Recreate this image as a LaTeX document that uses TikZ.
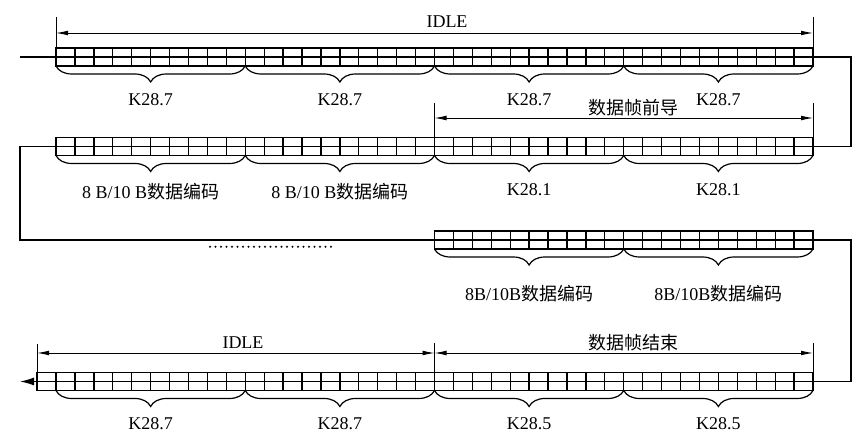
\documentclass[tikz,border=0pt]{standalone}
\usepackage{fontspec}
\setmainfont{Liberation Serif}
\newfontfamily\cjk{Noto Sans CJK SC}
\usetikzlibrary{arrows.meta,decorations.pathreplacing}

\tikzset{
  slot/.style={line width=0.65pt},
  wire/.style={line width=0.65pt},
  brc/.style={decorate,decoration={brace,mirror,amplitude=8pt},line width=0.6pt},
  dim/.style={{Latex[length=6pt,width=2.4pt]}-{Latex[length=6pt,width=2.4pt]},line width=0.45pt},
  tick/.style={line width=0.45pt},
  lbl/.style={font=\fontsize{9}{10}\selectfont,inner sep=0pt},
}

\begin{document}
\begin{tikzpicture}[x=0.5pt,y=0.5pt]
        \useasboundingbox (0,0) rectangle (858,444);
        % code word strips
        \foreach \xa/\yc/\cnt in {56/387/40,56/297.5/40,434.5/204/20,37.075/62.5/41}{
          \draw[slot] (\xa,\yc-9) rectangle ({\xa+\cnt*18.925},\yc+9);
          \draw[slot] (\xa,\yc) -- ({\xa+\cnt*18.925},\yc);
          \foreach \k in {1,...,\cnt}
            \draw[slot] ({\xa+\k*18.925},\yc-9) -- ++(0,18);
        }
        \coordinate (in) at (20,387);
        \coordinate (r1w) at (56,387);
        \coordinate (r1e) at (813,387);
        \coordinate (r2w) at (56,297.5);
        \coordinate (r2e) at (813,297.5);
        \coordinate (r3w) at (434.5,204);
        \coordinate (r3e) at (813,204);
        \coordinate (r4w) at (37.075,62.5);
        \coordinate (r4e) at (813,62.5);
        \coordinate (out) at (20,62.5);
        \draw[wire] (in) -- (r1w);
        \draw[wire] (r1e) -- ++(38,0) |- (r2e);
        \draw[wire] (r2w) -- ++(-36,0) |- (r3w);
        \draw[wire] (r3e) -- ++(38,0) |- (r4e);
        \draw[wire, -{Latex[length=7pt,width=4pt]}] (r4w) -- (out);
        % row 1
        \draw[tick] (56,427) -- (56,396);
        \draw[tick] (813,427) -- (813,396);
        \draw[dim] (56,411) -- (813,411);
        \node[lbl, anchor=south] (idle1) at (447,416) {IDLE};
        \foreach \i in {0,...,3}{
          \draw[brc] ({56+\i*189.25},378) -- ({56+(\i+1)*189.25},378);
          \node[lbl, anchor=north] (ka\i) at ({150.6+\i*189.25},351) {K28.7};
        }
        % row 2
        \draw[tick] (434.5,341) -- (434.5,306.5);
        \draw[tick] (813,341) -- (813,306.5);
        \draw[dim] (434.5,326) -- (813,326);
        \node[lbl, anchor=south] (pre) at (633,327.5) {\cjk 数据帧前导};
        \foreach \i in {0,...,3}
          \draw[brc] ({56+\i*189.25},288.5) -- ({56+(\i+1)*189.25},288.5);
        \node[lbl, anchor=north] (da1) at (150.6,261) {8 B/10 B{\cjk 数据编码}};
        \node[lbl, anchor=north] (da2) at (339.9,261) {8 B/10 B{\cjk 数据编码}};
        \node[lbl, anchor=north] (kb1) at (529.1,261) {K28.1};
        \node[lbl, anchor=north] (kb2) at (718.4,261) {K28.1};
        % row 3
        \draw[line width=1.1pt, line cap=round, dash pattern=on 0pt off 2.75pt] (210,197.3) -- (333,197.3);
        \foreach \i in {2,3}
          \draw[brc] ({56+\i*189.25},195) -- ({56+(\i+1)*189.25},195);
        \node[lbl, anchor=north] (db1) at (529.1,159) {8B/10B{\cjk 数据编码}};
        \node[lbl, anchor=north] (db2) at (718.4,159) {8B/10B{\cjk 数据编码}};
        % row 4
        \draw[tick] (37.075,100) -- (37.075,71.5);
        \draw[tick] (434.5,101) -- (434.5,71.5);
        \draw[tick] (813,101) -- (813,71.5);
        \draw[dim] (37.075,91) -- (434.5,91);
        \draw[dim] (434.5,91) -- (813,91);
        \node[lbl, anchor=south] (idle2) at (243,95) {IDLE};
        \node[lbl, anchor=south] (eof) at (633,93) {\cjk 数据帧结束};
        \foreach \i/\t in {0/K28.7,1/K28.7,2/K28.5,3/K28.5}{
          \draw[brc] ({56+\i*189.25},53.5) -- ({56+(\i+1)*189.25},53.5);
          \node[lbl, anchor=north] (kc\i) at ({150.6+\i*189.25},27.3) {\t};
        }
\end{tikzpicture}
\end{document}
